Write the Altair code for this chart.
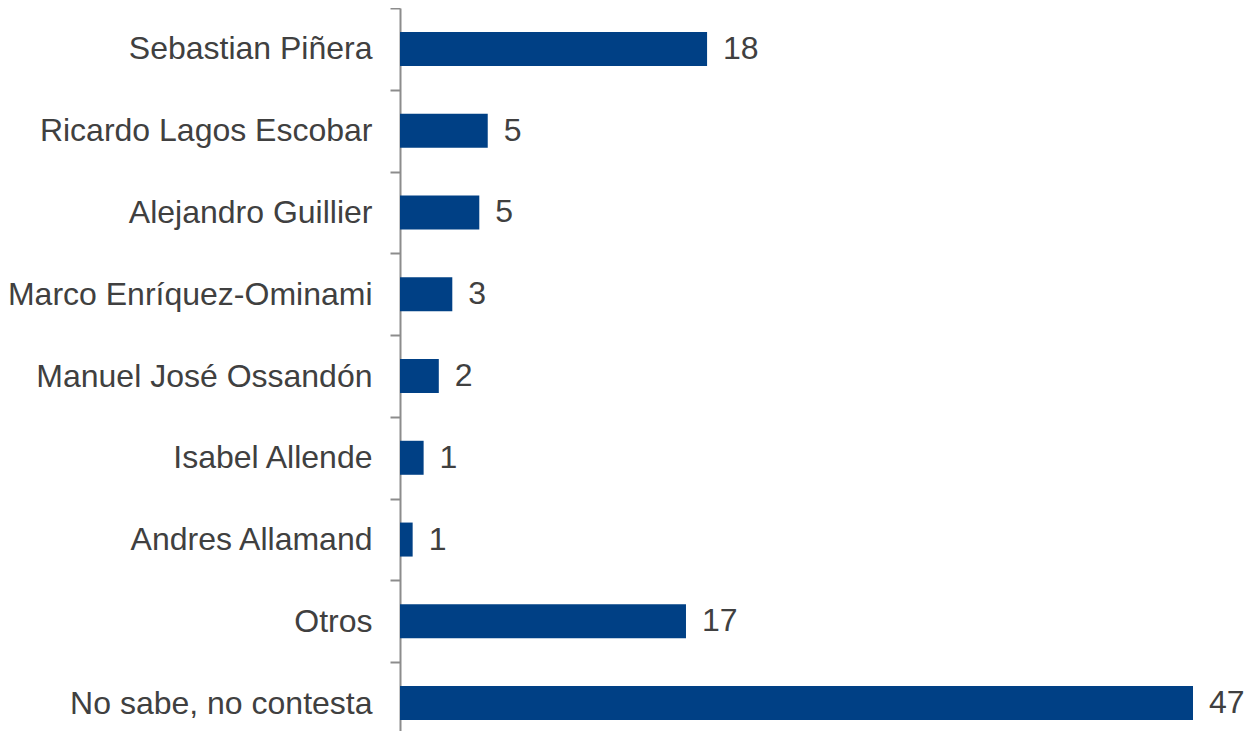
import altair as alt
import pandas as pd

categories = [
    "Sebastian Piñera",
    "Ricardo Lagos Escobar",
    "Alejandro Guillier",
    "Marco Enríquez-Ominami",
    "Manuel José Ossandón",
    "Isabel Allende",
    "Andres Allamand",
    "Otros",
    "No sabe, no contesta",
]
values = [18.2, 5.2, 4.7, 3.1, 2.3, 1.4, 0.75, 16.95, 47.0]
labels = ["18", "5", "5", "3", "2", "1", "1", "17", "47"]

df = pd.DataFrame({"cat": categories, "val": values, "lab": labels})

FONT = "Liberation Sans"
FS = 32
TXT = "#404040"

y = alt.Y(
    "cat:N",
    sort=categories,
    scale=alt.Scale(paddingInner=0, paddingOuter=0, range=[0, 736]),
    axis=alt.Axis(
        title=None,
        tickBand="extent",
        tickSize=10,
        tickColor="#8c8c8c",
        tickWidth=2,
        domainColor="#8c8c8c",
        domainWidth=2,
        labelFont=FONT,
        labelFontSize=FS,
        labelColor=TXT,
        labelPadding=18,
        labelLimit=0,
        grid=False,
    ),
)
x = alt.X(
    "val:Q",
    scale=alt.Scale(domain=[0, 47], nice=False),
    axis=None,
)

bars = alt.Chart(df).mark_bar(color="#004085", size=34).encode(x=x, y=y)
text = alt.Chart(df).mark_text(
    align="left", baseline="middle", dx=16, font=FONT, fontSize=FS, color=TXT
).encode(x=x, y=y, text="lab:N")

chart = (
    alt.layer(bars, text)
    .properties(
        width=793,
        height=723,
        background="white",
        autosize=alt.AutoSizeParams(type="none"),
        padding={"left": 392, "top": 0, "right": 52, "bottom": 0},
    )
    .configure_view(stroke="transparent", strokeWidth=0)
)

chart.save("out.html", embed_options={"renderer": "svg", "actions": False})
